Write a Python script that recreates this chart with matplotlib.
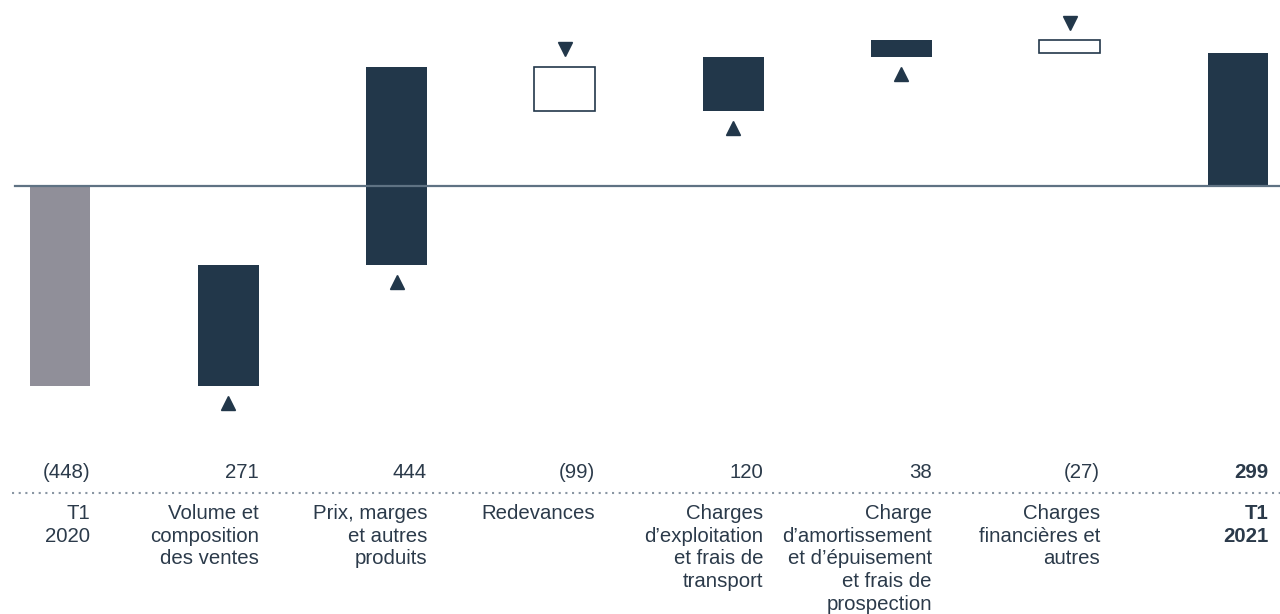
import numpy as np
import matplotlib.pyplot as plt
import matplotlib.transforms as mtransforms

plt.rcParams['font.family'] = ['Liberation Sans', 'DejaVu Sans']

# waterfall data (millions)
categories = ['T1\n2020', 'Volume et\ncomposition\ndes ventes', 'Prix, marges\net autres\nproduits',
              'Redevances', 'Charges\nd\u2019exploitation\net frais de\ntransport',
              'Charge\nd\u2019amortissement\net d\u2019\u00e9puisement\net frais de\nprospection',
              'Charges\nfinanci\u00e8res et\nautres', 'T1\n2021']
values = [-448, 271, 444, -99, 120, 38, -27, 299]
value_labels = ['(448)', '271', '444', '(99)', '120', '38', '(27)', '299']

navy = '#22374a'
grey = '#908f99'
txt = '#2b3a4a'

fig = plt.figure(figsize=(12.8, 6.14), dpi=100)
ax = fig.add_axes([0, 0, 1, 1])
ax.set_xlim(-0.3565, 7.2495)
ax.set_ylim(-958.8, 416.7)
ax.axis('off')

w = 0.362
n = len(values)

# step bars, triangles show direction
cum = 0
for i, v in enumerate(values):
    if i == 0:
        ax.bar(i, v, w, bottom=0, color=grey, zorder=2)
        cum = v
    elif i == n - 1:
        ax.bar(i, v, w, bottom=0, color=navy, zorder=2)
    else:
        if v >= 0:
            ax.bar(i, v, w, bottom=cum, color=navy, zorder=2)
            ax.plot(i, cum - 38, marker='^', ms=10, color=navy, ls='none')
        else:
            ax.bar(i, v, w, bottom=cum, facecolor='white', edgecolor=navy, lw=1.2, zorder=2)
            ax.plot(i, cum + 40, marker='v', ms=10, color=navy, ls='none')
        cum += v

ax.axhline(0, xmin=15 / 1280, xmax=1, color='#5f7283', lw=1.6, zorder=3)

trans = mtransforms.blended_transform_factory(ax.transData, ax.transAxes)
ax.axhline(-958.8 + (1 - 493 / 614) * (416.7 + 958.8), xmin=12 / 1280, xmax=1,
           color='#8a96a3', lw=1.5, ls=(0, (1, 2.2)))

for i in range(n):
    bold = 'bold' if i == n - 1 else 'normal'
    ax.text(i + w / 2, 1 - 472 / 614, value_labels[i], transform=trans, ha='right', va='center',
            fontsize=14.7, color=txt, fontweight=bold)
    ax.text(i + w / 2, 1 - 504 / 614, categories[i], transform=trans, ha='right', va='top',
            fontsize=14.7, color=txt, fontweight=bold, multialignment='right', linespacing=1.25)

fig.savefig('out.png', dpi=100)
